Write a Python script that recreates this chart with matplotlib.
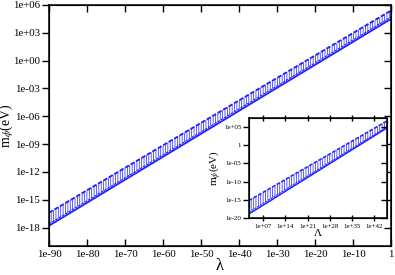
import numpy as np
import matplotlib
matplotlib.use('Agg')
import matplotlib.pyplot as plt

plt.rcParams['font.family'] = ['Liberation Serif', 'DejaVu Serif']
plt.rcParams['mathtext.fontset'] = 'stix'
plt.rcParams['hatch.linewidth'] = 0.5

# main panel: lambda vs m_phi (eV), endpoints of the straight log-log lines
lam = [1e-90, 1.0]
m_solid = [10.0**-17.8, 10.0**4.5]
m_band_lo = [10.0**-17.6, 10.0**4.7]
m_band_hi = [10.0**-16.4, 10.0**5.4]

main_xticks = [1e-90, 1e-80, 1e-70, 1e-60, 1e-50, 1e-40, 1e-30, 1e-20, 1e-10, 1.0]
main_xlabels = ['1e-90', '1e-80', '1e-70', '1e-60', '1e-50', '1e-40', '1e-30', '1e-20', '1e-10', '1']
main_yticks = [1e-18, 1e-15, 1e-12, 1e-09, 1e-06, 1e-03, 1e+00, 1e+03, 1e+06]
main_ylabels = ['1e-18', '1e-15', '1e-12', '1e-09', '1e-06', '1e-03', '1e+00', '1e+03', '1e+06']

# inset: Lambda vs m_phi (eV)
Lam = [10.0**2.5, 10.0**46]
m_in_solid = [10.0**-18.9, 10.0**4.7]
m_in_lo = [10.0**-18.4, 10.0**5.0]
m_in_hi = [10.0**-15.2, 10.0**6.6]

in_xticks = [1e7, 1e14, 1e21, 1e28, 1e35, 1e42]
in_xlabels = ['1e+07', '1e+14', '1e+21', '1e+28', '1e+35', '1e+42']
in_yticks = [1e-20, 1e-15, 1e-10, 1e-05, 1.0, 1e+05]
in_ylabels = ['1e-20', '1e-15', '1e-10', '1e-05', '1', '1e+05']

blue = '#1f1fff'

fig = plt.figure(figsize=(3.95, 2.75), dpi=100)

def draw(ax, x, solid, lo, hi, lw):
    ax.fill_between(x, lo, hi, facecolor='none', edgecolor=blue, hatch='|' * 7, linewidth=0)
    ax.plot(x, hi, color=blue, lw=lw, ls=(0, (2.5, 1.0)))
    ax.plot(x, lo, color=blue, lw=lw * 0.6, ls=(0, (2.5, 1.0)))
    ax.plot(x, solid, color=blue, lw=lw)

def style(ax, fs, tl):
    for s in ax.spines.values():
        s.set_linewidth(1.1)
    ax.tick_params(which='minor', length=0)
    ax.tick_params(axis='y', which='major', direction='out', left=True, right=False,
                   length=tl, width=1.0, labelsize=fs, pad=1.5)
    ax.tick_params(axis='x', which='major', direction='in', bottom=True, top=True,
                   length=tl, width=1.0, labelsize=fs, pad=3)
    ax.tick_params(axis='y', which='major', labelright=False)

ax = fig.add_axes([0.124, 0.105, 0.866, 0.877])
draw(ax, lam, m_solid, m_band_lo, m_band_hi, 1.3)
ax.set_xscale('log')
ax.set_yscale('log')
ax.set_xlim(1e-90, 1.0)
ax.set_ylim(1e-20, 1e+06)
ax.set_xticks(main_xticks)
ax.set_xticklabels(main_xlabels)
ax.set_yticks(main_yticks)
ax.set_yticklabels(main_ylabels)
style(ax, 7.8, 5)
# right side inward ticks
axr = ax.twinx()
axr.set_yscale('log')
axr.set_ylim(ax.get_ylim())
axr.set_yticks(main_yticks)
axr.set_yticklabels([])
axr.tick_params(axis='y', which='major', direction='in', length=5, width=1.0)
axr.tick_params(which='minor', length=0)
ax.set_xlabel('λ', fontsize=12)
ax.xaxis.set_label_coords(0.5, -0.05)
ax.set_ylabel('m$_{\\phi}$(eV)', fontsize=10)
ax.yaxis.set_label_coords(-0.095, 0.5)

ins = fig.add_axes([0.630, 0.207, 0.350, 0.364])
draw(ins, Lam, m_in_solid, m_in_lo, m_in_hi, 1.1)
ins.set_xscale('log')
ins.set_yscale('log')
ins.set_xlim(Lam[0], Lam[1])
ins.set_ylim(1e-20, 10.0**7.4)
ins.set_xticks(in_xticks)
ins.set_xticklabels(in_xlabels)
ins.set_yticks(in_yticks)
ins.set_yticklabels(in_ylabels)
style(ins, 5, 4)
ins.tick_params(axis='x', which='major', direction='inout', pad=2)
insr = ins.twinx()
insr.set_yscale('log')
insr.set_ylim(ins.get_ylim())
insr.set_yticks(in_yticks)
insr.set_yticklabels([])
insr.tick_params(axis='y', which='major', direction='in', length=4, width=1.0)
insr.tick_params(which='minor', length=0)
ins.set_xlabel('Λ', fontsize=8, labelpad=0)
ins.set_ylabel('m$_{\\phi}$(eV)', fontsize=8, labelpad=1)

fig.savefig('out.png', dpi=100)
